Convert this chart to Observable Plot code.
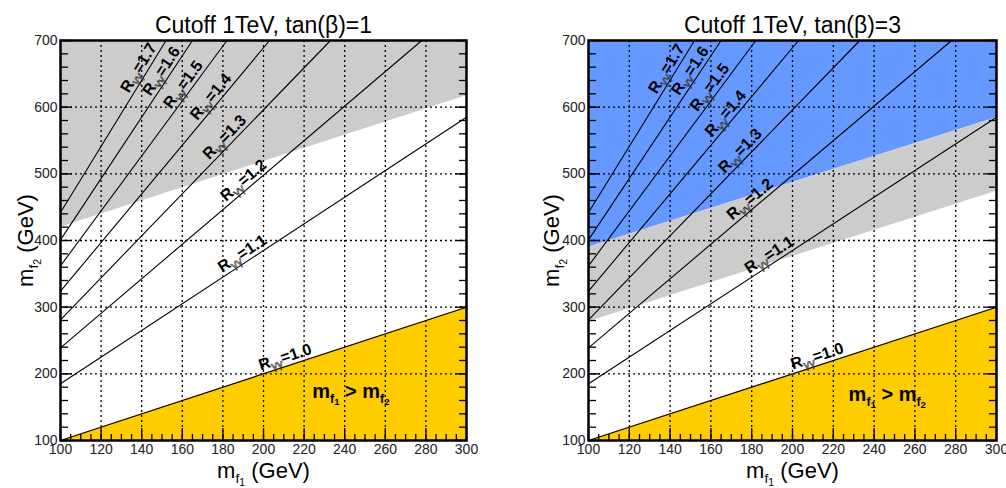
<!DOCTYPE html>
<html><head><meta charset="utf-8">
<script src="https://cdn.jsdelivr.net/npm/d3@7"></script>
<script src="https://cdn.jsdelivr.net/npm/@observablehq/plot@0.6"></script>
<style>
body{margin:0;background:#fff;}
#wrap{display:flex;width:1006px;height:488px;overflow:hidden;}
</style></head><body><div id="wrap"></div>
<script>
// ---- data ----
const mf1Domain = [100, 300];
const mf2Domain = [100, 700];
const rLabels = ["1.0", "1.1", "1.2", "1.3", "1.4", "1.5", "1.6", "1.7"];
const lineStartM1 = [100, 100, 100, 100, 100, 100, 100, 100];
const lineStartM2 = [100, 185, 239, 281, 324, 362, 401, 442];
const lineEndM1 = [300, 300, 278, 233, 203, 182, 165, 152];
const lineEndM2 = [300, 585, 700, 700, 700, 700, 700, 700];
const labelM1Left = [212, 192, 193, 184, 177.5, 164, 153.4, 142.3];
const labelM1Right = [213.5, 191, 182, 177.5, 170.6, 163, 153.5, 142];
const regionM1 = [100, 300];
const topM2 = [700, 700];
const diagM2 = [100, 300];
const bottomM2 = [100, 100];
const leftGreyLowM2 = [420, 617];
const rightBlueLowM2 = [390, 584];
const rightGreyLowM2 = [278, 474];
const xMinorTicks = d3.range(100, 301, 5);
const xMajorTicks = d3.range(100, 301, 20);
const yMinorTicks = d3.range(100, 701, 20);
const yMajorTicks = d3.range(100, 701, 100);
const xGrid = d3.range(120, 300, 20);
const yGrid = d3.range(200, 700, 100);
const titles = ["Cutoff 1TeV, tan(β)=1", "Cutoff 1TeV, tan(β)=3"];
const noteM1 = [224, 227.5];
const noteM2 = [164.5, 160];

const W = 503, H = 488, MT = 40, MB = 48;
const GREY = "#cccccc", GOLD = "#ffcc00", BLUE = "#6699ff";

function band(lo, hi) { return regionM1.map((m1, i) => ({m1, lo: lo[i], hi: hi[i]})); }

function makePanel(idx, ml, mr) {
  const kx = (W - ml - mr) / (mf1Domain[1] - mf1Domain[0]);
  const ky = (H - MT - MB) / (mf2Domain[1] - mf2Domain[0]);
  const lines = rLabels.flatMap((r, i) => [
    {r, m1: lineStartM1[i], m2: lineStartM2[i]},
    {r, m1: lineEndM1[i], m2: lineEndM2[i]}
  ]);
  const lm = idx === 0 ? labelM1Left : labelM1Right;
  const labels = rLabels.map((r, i) => {
    const s = (lineEndM2[i] - lineStartM2[i]) / (lineEndM1[i] - lineStartM1[i]);
    const m1 = lm[i];
    const m2 = lineStartM2[i] + (m1 - lineStartM1[i]) * s;
    const angle = -Math.atan2((lineEndM2[i] - lineStartM2[i]) * ky, (lineEndM1[i] - lineStartM1[i]) * kx) * 180 / Math.PI;
    return {r, m1, m2, angle};
  });
  const fills = [];
  if (idx === 0) {
    fills.push(Plot.areaY(band(leftGreyLowM2, topM2), {x: "m1", y1: "lo", y2: "hi", fill: GREY}));
  } else {
    fills.push(Plot.areaY(band(rightBlueLowM2, topM2), {x: "m1", y1: "lo", y2: "hi", fill: BLUE}));
    fills.push(Plot.areaY(band(rightGreyLowM2, rightBlueLowM2), {x: "m1", y1: "lo", y2: "hi", fill: GREY}));
  }
  fills.push(Plot.areaY(band(bottomM2, diagM2), {x: "m1", y1: "lo", y2: "hi", fill: GOLD}));

  const tickStyle = {tickFormat: () => "", label: null, stroke: "black", strokeWidth: 1.3};
  const plot = Plot.plot({
    width: W, height: H,
    marginLeft: ml, marginRight: mr, marginTop: MT, marginBottom: MB,
    style: {fontFamily: "'Liberation Sans', Arial, sans-serif", fontSize: "14px", background: "white", color: "black", overflow: "visible"},
    x: {domain: mf1Domain},
    y: {domain: mf2Domain},
    marks: [
      ...fills,
      Plot.gridX(xGrid, {stroke: "black", strokeOpacity: 1, strokeWidth: 1.3, strokeDasharray: "2,3"}),
      Plot.gridY(yGrid, {stroke: "black", strokeOpacity: 1, strokeWidth: 1.3, strokeDasharray: "2,3"}),
      Plot.line(lines, {x: "m1", y: "m2", z: "r", stroke: "black", strokeWidth: 1.1}),
      Plot.text(labels, {x: "m1", y: "m2", text: d => `R_{γγ}=${d.r}`, rotate: "angle", textAnchor: "middle", lineAnchor: "bottom", fontSize: 16, fontWeight: "bold", fill: "black"}),
      Plot.text([`m_{f}__{1} > m_{f}__{2}`], {x: () => noteM1[idx], y: () => noteM2[idx], text: d => d, textAnchor: "start", lineAnchor: "bottom", fontSize: 20, fontWeight: "bold", fill: "black"}),
      Plot.axisX(xMinorTicks, {anchor: "bottom", tickSize: -6, ...tickStyle}),
      Plot.axisX(xMajorTicks, {anchor: "bottom", tickSize: -12, ...tickStyle}),
      Plot.axisX(xMajorTicks, {anchor: "bottom", tickSize: 0, tickPadding: 4, label: null, fontSize: 14, fill: "#222"}),
      Plot.axisY(yMinorTicks, {anchor: "left", tickSize: -8, ...tickStyle}),
      Plot.axisY(yMajorTicks, {anchor: "left", tickSize: -12, ...tickStyle}),
      Plot.axisY(yMinorTicks, {anchor: "right", tickSize: -8, ...tickStyle}),
      Plot.axisY(yMajorTicks, {anchor: "right", tickSize: -12, ...tickStyle}),
      Plot.axisY(yMajorTicks, {anchor: "left", tickSize: 0, tickPadding: 3, label: null, fontSize: 14, fill: "#222"}),
      Plot.frame({stroke: "black", strokeWidth: 2.5}),
      Plot.text([titles[idx]], {frameAnchor: "top", dy: -8, lineAnchor: "bottom", fontSize: 23, fill: "black"}),
      Plot.text(["m_{f}__{1} (GeV)"], {frameAnchor: "bottom", dy: 37, lineAnchor: "bottom", textAnchor: "middle", fontSize: 22, fill: "black"}),
      Plot.text(["m_{f}__{2} (GeV)"], {frameAnchor: "left", dx: idx === 0 ? -28 : -30, rotate: -90, lineAnchor: "bottom", textAnchor: "middle", fontSize: 22, fill: "black"})
    ]
  });
  return plot;
}

function richText(svg) {
  d3.select(svg).selectAll("text").each(function () {
    const el = this;
    const s = el.textContent;
    if (!s.includes("_{")) return;
    const isR = s.startsWith("R_{");
    if (isR) {
      const tr = el.getAttribute("transform") || "";
      el.setAttribute("transform", tr + " translate(0,-4)");
    }
    const base = parseFloat(getComputedStyle(el).fontSize) || 14;
    const parts = s.split(/(__\{[^}]*\}|_\{[^}]*\})/).filter(p => p !== "");
    el.textContent = "";
    let cur = 0;
    for (const p of parts) {
      let level = 0, t = p;
      if (p.startsWith("__{")) { level = 2; t = p.slice(3, -1); }
      else if (p.startsWith("_{")) { level = 1; t = p.slice(2, -1); }
      const offs = isR ? [0, 0.22, 0.4] : [0, 0.26, 0.38];
      const sizes = isR ? [1, 0.72, 0.5] : [1, 0.62, 0.48];
      const off = offs[level] * base;
      const size = sizes[level] * base;
      const ts = d3.select(el).append("tspan").text(t).attr("dy", off - cur).attr("font-size", size);
      cur = off;
      if (/γ/.test(t)) ts.attr("fill", "none").attr("stroke", "#333").attr("stroke-width", 0.6).attr("font-weight", "normal");
    }
  });
}

const wrap = document.getElementById("wrap");
const p1 = makePanel(0, 60, 37);
const p2 = makePanel(1, 85, 10);
wrap.appendChild(p1);
wrap.appendChild(p2);
richText(p1);
richText(p2);
</script></body></html>
